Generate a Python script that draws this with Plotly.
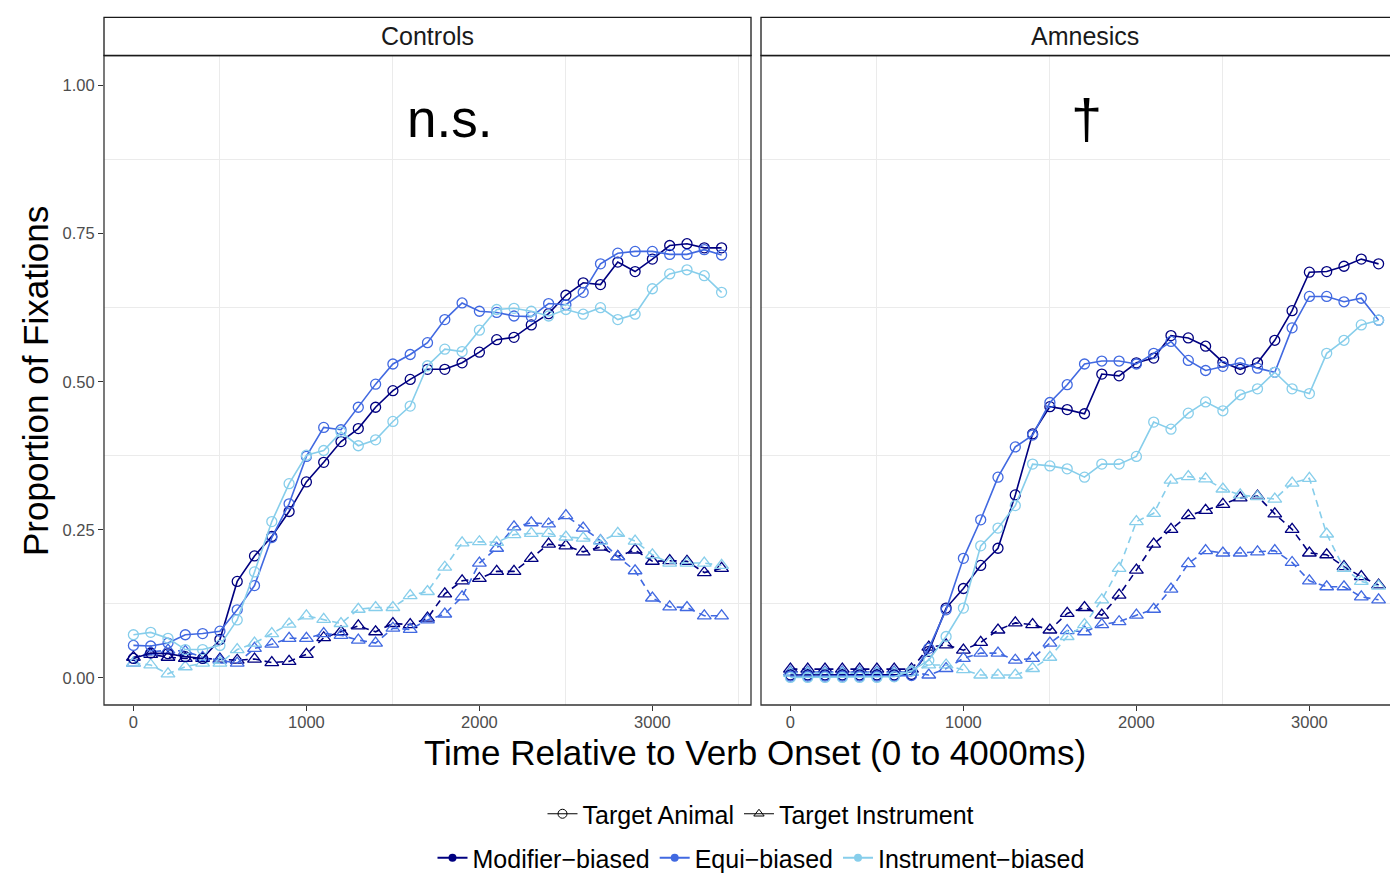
import plotly.graph_objects as go

# ---------------- data ----------------
TIMES = [0, 100, 200, 300, 400, 500, 600, 700, 800, 900, 1000, 1100, 1200, 1300, 1400, 1500, 1600,
         1700, 1800, 1900, 2000, 2100, 2200, 2300, 2400, 2500, 2600, 2700, 2800, 2900, 3000, 3100,
         3200, 3300, 3400]

PANELS = ["Controls", "Amnesics"]
BIASES = ["Modifier\u2212biased", "Equi\u2212biased", "Instrument\u2212biased"]
TARGETS = ["Target Animal", "Target Instrument"]
BIAS_COLORS = ["#000080", "#4169E1", "#87CEEB"]
PANEL_NOTES = ["n.s.", "\u2020"]

# Controls - Target Animal
ctrl_mod_animal = [0.033, 0.042, 0.041, 0.036, 0.033, 0.065, 0.163, 0.206, 0.239, 0.281, 0.331, 0.364,
                   0.399, 0.421, 0.457, 0.485, 0.504, 0.521, 0.521, 0.532, 0.550, 0.571, 0.575, 0.596,
                   0.615, 0.646, 0.667, 0.664, 0.702, 0.686, 0.707, 0.730, 0.733, 0.726, 0.726]
ctrl_equi_animal = [0.055, 0.054, 0.059, 0.073, 0.075, 0.079, 0.115, 0.156, 0.237, 0.294, 0.374, 0.423,
                    0.419, 0.457, 0.496, 0.530, 0.546, 0.566, 0.605, 0.633, 0.619, 0.617, 0.611, 0.610,
                    0.632, 0.630, 0.651, 0.699, 0.717, 0.720, 0.720, 0.715, 0.715, 0.723, 0.714]
ctrl_inst_animal = [0.073, 0.077, 0.067, 0.048, 0.048, 0.055, 0.098, 0.179, 0.264, 0.328, 0.376, 0.384,
                    0.415, 0.392, 0.402, 0.433, 0.459, 0.527, 0.555, 0.551, 0.587, 0.622, 0.624, 0.619,
                    0.611, 0.622, 0.614, 0.625, 0.605, 0.614, 0.657, 0.682, 0.689, 0.679, 0.651]
# Controls - Target Instrument
ctrl_mod_instr = [0.035, 0.040, 0.035, 0.033, 0.033, 0.032, 0.030, 0.032, 0.026, 0.028, 0.040, 0.068,
                  0.078, 0.088, 0.078, 0.092, 0.090, 0.101, 0.142, 0.164, 0.168, 0.180, 0.180, 0.202,
                  0.226, 0.223, 0.213, 0.221, 0.205, 0.216, 0.197, 0.198, 0.197, 0.178, 0.185]
ctrl_equi_instr = [0.025, 0.044, 0.047, 0.045, 0.035, 0.030, 0.025, 0.050, 0.057, 0.067, 0.067, 0.075,
                   0.072, 0.064, 0.059, 0.084, 0.082, 0.098, 0.108, 0.137, 0.194, 0.219, 0.255, 0.262,
                   0.260, 0.274, 0.253, 0.232, 0.205, 0.181, 0.135, 0.120, 0.119, 0.105, 0.105]
ctrl_inst_instr = [0.025, 0.022, 0.007, 0.019, 0.025, 0.025, 0.048, 0.059, 0.075, 0.091, 0.105, 0.099,
                   0.092, 0.116, 0.119, 0.119, 0.139, 0.146, 0.187, 0.228, 0.230, 0.229, 0.242, 0.244,
                   0.244, 0.238, 0.236, 0.231, 0.244, 0.231, 0.208, 0.194, 0.194, 0.194, 0.190]

# Amnesics - Target Animal
amn_mod_animal = [0.005, 0.005, 0.005, 0.005, 0.005, 0.005, 0.005, 0.006, 0.045, 0.118, 0.151, 0.190,
                  0.219, 0.309, 0.412, 0.458, 0.453, 0.446, 0.513, 0.510, 0.532, 0.540, 0.578, 0.574,
                  0.560, 0.533, 0.521, 0.532, 0.570, 0.620, 0.685, 0.686, 0.695, 0.707, 0.699]
amn_equi_animal = [0.003, 0.003, 0.003, 0.003, 0.003, 0.003, 0.003, 0.004, 0.050, 0.115, 0.202, 0.267,
                   0.339, 0.390, 0.410, 0.465, 0.495, 0.530, 0.535, 0.535, 0.530, 0.548, 0.568, 0.536,
                   0.519, 0.526, 0.532, 0.523, 0.516, 0.591, 0.644, 0.644, 0.635, 0.641, 0.604]
amn_inst_animal = [0.001, 0.001, 0.001, 0.001, 0.001, 0.001, 0.002, 0.012, 0.030, 0.070, 0.118, 0.223,
                   0.253, 0.291, 0.361, 0.358, 0.353, 0.339, 0.361, 0.361, 0.374, 0.432, 0.420, 0.447,
                   0.466, 0.451, 0.478, 0.488, 0.516, 0.488, 0.480, 0.548, 0.570, 0.596, 0.604]
# Amnesics - Target Instrument
amn_mod_instr = [0.015, 0.015, 0.015, 0.015, 0.015, 0.015, 0.015, 0.015, 0.052, 0.056, 0.047, 0.060,
                 0.081, 0.093, 0.090, 0.081, 0.109, 0.119, 0.106, 0.140, 0.182, 0.226, 0.251, 0.274,
                 0.283, 0.293, 0.304, 0.307, 0.277, 0.251, 0.211, 0.208, 0.188, 0.171, 0.157]
amn_equi_instr = [0.010, 0.010, 0.010, 0.010, 0.010, 0.010, 0.010, 0.010, 0.005, 0.016, 0.033, 0.042,
                  0.042, 0.030, 0.033, 0.059, 0.080, 0.078, 0.090, 0.095, 0.106, 0.116, 0.150, 0.193,
                  0.215, 0.211, 0.211, 0.213, 0.215, 0.195, 0.164, 0.154, 0.154, 0.137, 0.132]
amn_inst_instr = [0.008, 0.008, 0.008, 0.008, 0.008, 0.008, 0.008, 0.010, 0.022, 0.022, 0.014, 0.005,
                  0.005, 0.005, 0.016, 0.035, 0.070, 0.090, 0.132, 0.185, 0.264, 0.278, 0.334, 0.340,
                  0.336, 0.319, 0.309, 0.306, 0.302, 0.329, 0.337, 0.243, 0.185, 0.163, 0.155]

Y_TICKS = [0, 0.25, 0.5, 0.75, 1.0]
Y_TICK_TEXT = ["0.00", "0.25", "0.50", "0.75", "1.00"]
X_TICKS = [0, 1000, 2000, 3000]
X_MINOR = [500, 1500, 2500, 3500]
Y_MINOR = [0.125, 0.375, 0.625, 0.875]

SERIES = {
    ("Controls", "Target Animal"): [ctrl_mod_animal, ctrl_equi_animal, ctrl_inst_animal],
    ("Controls", "Target Instrument"): [ctrl_mod_instr, ctrl_equi_instr, ctrl_inst_instr],
    ("Amnesics", "Target Animal"): [amn_mod_animal, amn_equi_animal, amn_inst_animal],
    ("Amnesics", "Target Instrument"): [amn_mod_instr, amn_equi_instr, amn_inst_instr],
}

# ---------------- layout helpers ----------------
# page body has an 8px margin, so the figure is offset by (8, 8) in the window
OFF = 8
W, H = 1398 - OFF, 881 - OFF
FONT = "Liberation Sans, Arial, Helvetica, sans-serif"


def px(x):
    return (x - OFF) / W


def py(y):
    return 1 - (y - OFF) / H


PANEL_X = [(104, 751), (761, 1408)]
PANEL_TOP, PANEL_BOT = 55.5, 705
STRIP_TOP = 17.3
SCALE = (751 - 104) / 3740.0  # px per ms
X_RANGES = [[-170, 3570], [-170, -170 + (1398 - 761) / SCALE]]
Y_RANGE = [-0.0456, 1.0507]

fig = go.Figure()

axis_names = [("x", "y"), ("x2", "y2")]
for pi, panel in enumerate(PANELS):
    xa, ya = axis_names[pi]
    for target, symbol, dash in [("Target Instrument", "triangle-up-open", "7px,5px"),
                                 ("Target Animal", "circle-open", "solid")]:
        for bi, bias in enumerate(BIASES):
            vals = SERIES[(panel, target)][bi]
            fig.add_trace(go.Scatter(
                x=TIMES, y=vals, xaxis=xa, yaxis=ya, mode="lines+markers",
                line=dict(color=BIAS_COLORS[bi], width=1.6, dash=dash),
                marker=dict(symbol=symbol, size=10 if symbol.startswith("circle") else 12,
                            color=BIAS_COLORS[bi], line=dict(width=1.3, color=BIAS_COLORS[bi])),
                showlegend=False, name=f"{panel} {target} {bias}",
            ))

# legend dummies
for target, symbol in [("Target Animal", "circle-open"), ("Target Instrument", "triangle-up-open")]:
    fig.add_trace(go.Scatter(
        x=[None], y=[None], mode="lines+markers", name=target, legend="legend",
        line=dict(color="black", width=1.2),
        marker=dict(symbol=symbol, size=9, color="black", line=dict(width=1, color="black")),
        showlegend=True,
    ))
for bi, bias in enumerate(BIASES):
    fig.add_trace(go.Scatter(
        x=[None], y=[None], mode="lines+markers", name=bias, legend="legend2",
        line=dict(color=BIAS_COLORS[bi], width=2),
        marker=dict(symbol="circle", size=8, color=BIAS_COLORS[bi]),
        showlegend=True,
    ))

shapes = []
annotations = []
for pi, panel in enumerate(PANELS):
    x0, x1 = PANEL_X[pi]
    # panel border
    shapes.append(dict(type="rect", xref="paper", yref="paper", x0=px(x0), x1=px(x1),
                       y0=py(PANEL_BOT), y1=py(PANEL_TOP), line=dict(color="#333333", width=1.3),
                       fillcolor="rgba(0,0,0,0)", layer="above"))
    # strip
    shapes.append(dict(type="rect", xref="paper", yref="paper", x0=px(x0), x1=px(x1),
                       y0=py(PANEL_TOP), y1=py(STRIP_TOP), line=dict(color="#1A1A1A", width=1.3),
                       fillcolor="white", layer="above"))
    annotations.append(dict(text=panel, xref="paper", yref="paper", x=px((x0 + x1) / 2),
                            y=py((STRIP_TOP + PANEL_TOP) / 2), showarrow=False,
                            font=dict(family=FONT, size=25, color="#1A1A1A"),
                            xanchor="center", yanchor="middle"))

annotations.append(dict(text=PANEL_NOTES[0], xref="x", yref="y", x=1830, y=0.945, showarrow=False,
                        font=dict(family=FONT, size=53, color="black"), xanchor="center", yanchor="middle"))
annotations.append(dict(text=PANEL_NOTES[1], xref="x2", yref="y2", x=1710, y=0.945, showarrow=False,
                        font=dict(family=FONT, size=56, color="black"), xanchor="center", yanchor="middle"))
annotations.append(dict(text="Time Relative to Verb Onset (0 to 4000ms)", xref="paper", yref="paper",
                        x=px(755), y=py(752), showarrow=False,
                        font=dict(family=FONT, size=35, color="black"), xanchor="center", yanchor="middle"))
annotations.append(dict(text="Proportion of Fixations", xref="paper", yref="paper",
                        x=px(35), y=py(381), showarrow=False, textangle=-90,
                        font=dict(family=FONT, size=35, color="black"), xanchor="center", yanchor="middle"))

common_x = dict(tickvals=X_TICKS, ticks="outside", ticklen=5, tickwidth=1, tickcolor="#333333",
                showgrid=False, zeroline=False, showline=False, ticklabelstandoff=-3,
                tickfont=dict(family=FONT, size=16.5, color="#4D4D4D"),
                minor=dict(tickvals=X_MINOR, showgrid=True, gridcolor="#EBEBEB", gridwidth=1, ticks=""))
common_y = dict(range=Y_RANGE, tickvals=Y_TICKS, ticktext=Y_TICK_TEXT, showgrid=False, zeroline=False,
                showline=False,
                minor=dict(tickvals=Y_MINOR, showgrid=True, gridcolor="#EBEBEB", gridwidth=1, ticks=""),
                domain=[py(PANEL_BOT), py(PANEL_TOP)])

fig.update_layout(
    width=W, height=H, margin=dict(l=0, r=0, t=0, b=0),
    paper_bgcolor="white", plot_bgcolor="white",
    font=dict(family=FONT),
    xaxis=dict(domain=[px(104), px(751)], range=X_RANGES[0], anchor="y", **common_x),
    xaxis2=dict(domain=[px(761), 1.0], range=X_RANGES[1], anchor="y2", **common_x),
    yaxis=dict(anchor="x", ticks="outside", ticklen=5, tickwidth=1, tickcolor="#333333",
               tickfont=dict(family=FONT, size=16.5, color="#4D4D4D"), **common_y),
    yaxis2=dict(anchor="x2", ticks="", showticklabels=False, **common_y),
    shapes=shapes,
    annotations=annotations,
    legend=dict(orientation="h", x=px(761), y=py(814), xanchor="center", yanchor="middle",
                font=dict(family=FONT, size=25, color="black"), bgcolor="rgba(0,0,0,0)",
                itemwidth=30, tracegroupgap=0),
    legend2=dict(orientation="h", x=px(761), y=0.0, xanchor="center", yanchor="bottom",
                 font=dict(family=FONT, size=25, color="black"), bgcolor="rgba(0,0,0,0)",
                 itemwidth=30, tracegroupgap=0),
)

fig.write_html("out.html")
